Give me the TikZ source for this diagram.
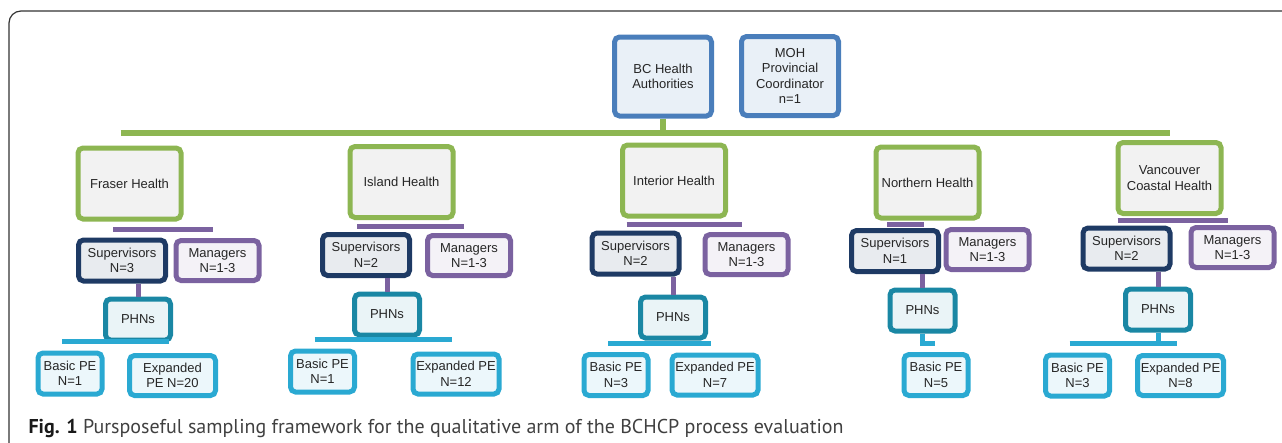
\documentclass[tikz,border=0pt]{standalone}
\usepackage{fontspec}
\setmainfont{Liberation Sans}
\newfontfamily\capfont{PT Sans}
\usetikzlibrary{positioning,calc}

\definecolor{cblue}{HTML}{4A7EBB}
\definecolor{cgreen}{HTML}{8DB652}
\definecolor{cnavy}{HTML}{1E3A64}
\definecolor{cpurple}{HTML}{7B62A0}
\definecolor{cteal}{HTML}{1A87A4}
\definecolor{ccyan}{HTML}{2AA9D2}

\tikzset{
  box/.style={draw, rounded corners=5pt, line width=5pt, align=center, inner sep=1pt,
              text=black!85, font=\fontsize{13}{15.5}\selectfont},
  topbox/.style={box, draw=cblue, fill=cblue!12, minimum width=97pt, minimum height=79pt},
  regbox/.style={box, draw=cgreen, fill=black!5, minimum width=103pt, minimum height=71pt},
  supbox/.style={box, draw=cnavy, fill=cnavy!10, minimum width=87pt, minimum height=41pt},
  mgrbox/.style={box, draw=cpurple, fill=cpurple!8, minimum width=83pt, minimum height=40pt},
  phnbox/.style={box, draw=cteal, fill=cteal!9, minimum width=65pt, minimum height=41pt},
  pebox/.style={box, draw=ccyan, fill=ccyan!9, minimum width=64pt, minimum height=41pt},
  expbox/.style={box, draw=ccyan, fill=ccyan!9, minimum width=86pt, minimum height=40pt},
  gline/.style={draw=cgreen, line width=6pt},
  pline/.style={draw=cpurple, line width=5pt},
  cline/.style={draw=ccyan, line width=5pt}
}

\begin{document}
\begin{tikzpicture}[x=1pt, y=-1pt]
\useasboundingbox (0,0) rectangle (1282,442);
\clip (0,0) rectangle (1282,442);
\draw[line width=1.2pt, black!80, rounded corners=12pt] (9,470) -- (9,11) -- (1300,11);
%
\node (bc)  [topbox] at (663,76.5) {BC Health\\Authorities};
\node (moh) [topbox] at (790,76)   {MOH\\Provincial\\Coordinator\\n=1};
%
\node (fra) [regbox] at (129.5,183.5) {Fraser Health};
\node (isl) [regbox] at (401.5,182)   {Island Health};
\node (int) [regbox] at (674,180.5)   {Interior Health};
\node (nor) [regbox] at (927.5,182.5) {Northern Health};
\node (van) [regbox] at (1169.5,178)  {Vancouver\\Coastal Health};
%
\node (fra-sup) [supbox] at (122,260.5)    {Supervisors\\N=3};
\node (isl-sup) [supbox] at (366,255)      {Supervisors\\N=2};
\node (int-sup) [supbox] at (635.5,253.5)  {Supervisors\\N=2};
\node (nor-sup) [supbox] at (895,251)      {Supervisors\\N=1};
\node (van-sup) [supbox] at (1126.5,248.5) {Supervisors\\N=2};
%
\node (fra-mgr) [mgrbox] at (217.5,260.5)  {Managers\\N=1-3};
\node (isl-mgr) [mgrbox] at (469,255.5)    {Managers\\N=1-3};
\node (int-mgr) [mgrbox] at (746.5,254.5)  {Managers\\N=1-3};
\node (nor-mgr) [mgrbox] at (987.5,249.5)  {Managers\\N=1-3};
\node (van-mgr) [mgrbox] at (1232.5,247.5) {Managers\\N=1-3};
%
\node (fra-phn) [phnbox] at (138,319.5)  {PHNs};
\node (isl-phn) [phnbox] at (387,314.5)  {PHNs};
\node (int-phn) [phnbox] at (673,317.5)  {PHNs};
\node (nor-phn) [phnbox] at (922.5,310.5) {PHNs};
\node (van-phn) [phnbox] at (1158,309.5) {PHNs};
%
\node (fra-bas) [pebox] at (70,373.5)    {Basic PE\\N=1};
\node (isl-bas) [pebox] at (322.5,371.5) {Basic PE\\N=1};
\node (int-bas) [pebox] at (616,375)     {Basic PE\\N=3};
\node (nor-bas) [pebox] at (936,375)     {Basic PE\\N=5};
\node (van-bas) [pebox] at (1077.5,375.5) {Basic PE\\N=3};
%
\node (fra-exp) [expbox] at (172.5,375.5) {Expanded\\PE N=20};
\node (isl-exp) [expbox] at (456,374)     {Expanded PE\\N=12};
\node (int-exp) [expbox] at (715,375)     {Expanded PE\\N=7};
\node (van-exp) [expbox] at (1180.5,375.5) {Expanded PE\\N=8};
%
\coordinate (gbar) at (0,133);
\draw[gline] (bc.south) -- (bc.south |- gbar);
\draw[gline] ([xshift=-9pt]fra.north |- gbar) -- (van.north |- gbar);
%
\foreach \r in {fra,isl,int,nor,van} {
    \path ($(\r.south)!.5!(\r-sup.north)$) coordinate (\r-p);
    \draw[pline] (\r-phn.north |- \r-sup.south) -- (\r-phn.north);
}
\foreach \r in {fra,isl,int,van}
    \draw[pline] ([xshift=-9pt]\r-sup.north |- \r-p) -- ([xshift=-5pt]\r-mgr.north |- \r-p);
\draw[pline] ([xshift=-8pt]nor-sup.north |- nor-p) -- ([xshift=-4pt]nor.south |- nor-p);
%
\foreach \r in {fra,isl,int,nor,van}
    \coordinate (\r-c) at ($(\r-bas.north)+(0,-9)$);
\foreach \r in {fra,isl,int,van} {
    \draw[cline] (\r-phn.south) -- (\r-phn.south |- \r-c);
    \draw[cline] ([xshift=-8pt]\r-bas.north |- \r-c) -- ([xshift=-4pt]\r-exp.north |- \r-c);
}
\draw[cline] (nor-phn.south) -- (nor-phn.south |- nor-c) -- ++(12,0);
%
\node (cap) [anchor=base west, font=\capfont\fontsize{20}{23}\selectfont, text=black!75]
    at (25,433) {\textcolor{black!90}{\textbf{Fig. 1}} Pursposeful sampling framework for the qualitative arm of the BCHCP process evaluation};
\end{tikzpicture}
\end{document}
